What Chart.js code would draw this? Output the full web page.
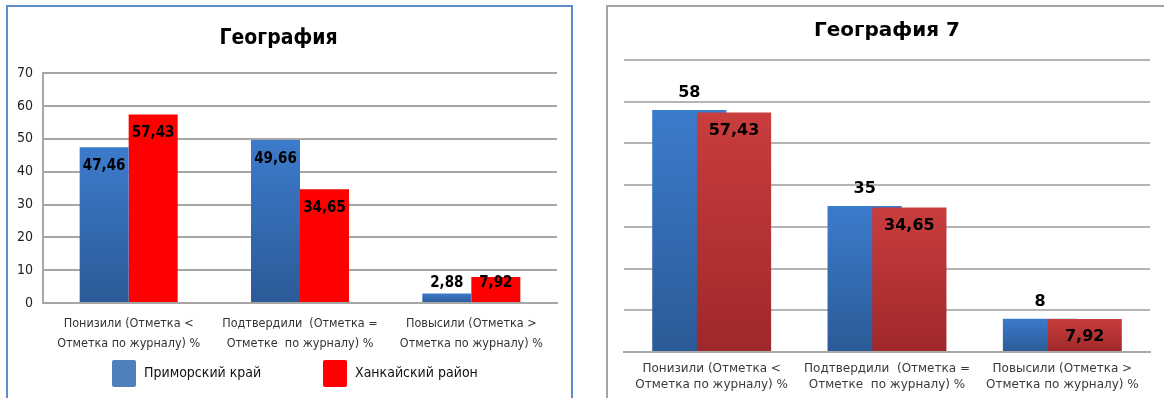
<!DOCTYPE html>
<html>
<head>
<meta charset="utf-8">
<script src="https://cdn.jsdelivr.net/npm/chart.js@4.4.1/dist/chart.umd.min.js"></script>
<style>
  body { margin: 0; background: #fff; width: 1164px; height: 398px; overflow: hidden; position: relative; }
  canvas { position: absolute; top: 0; }
  #leftChart { left: 0; }
  #rightChart { left: 600px; }
  .frame { position: absolute; pointer-events: none; box-sizing: border-box; }
  #leftFrame { left: 6px; top: 5px; width: 567px; height: 400px; border: 2px solid #5b8dcf; }
  #rightFrame { left: 606px; top: 5px; width: 570px; height: 400px; border: 2px solid #a3a3a3; }
</style>
</head>
<body>
<canvas id="leftChart" width="580" height="398"></canvas>
<canvas id="rightChart" width="564" height="398"></canvas>
<div class="frame" id="leftFrame"></div>
<div class="frame" id="rightFrame"></div>
<script>
// categories (same for both charts)
const categories = [
    ['Понизили (Отметка <', 'Отметка по журналу) %'],
    ['Подтвердили  (Отметка =', 'Отметке  по журналу) %'],
    ['Повысили (Отметка >', 'Отметка по журналу) %']
];
const seriesNames = ['Приморский край', 'Ханкайский район'];

// left chart "География"
const leftTitle = 'География';
const leftPrimorsky = [47.46, 49.66, 2.88];
const leftKhanka = [57.43, 34.65, 7.92];

// right chart "География 7"
const rightTitle = 'География 7';
const rightPrimorsky = [58, 35, 8];
const rightKhanka = [57.43, 34.65, 7.92];

const yMin = 0, yMax = 70, yStep = 10;

const FONT_L = "'DejaVu Sans Condensed', 'DejaVu Sans', sans-serif";
const FONT_R = "'DejaVu Sans', Verdana, sans-serif";

const fmt = v => String(v).replace('.', ',');

// vertical gradient per bar, from its top to the zero line
function barGradient(top, bottom) {
    return function (c) {
        const chart = c.chart;
        if (!chart.chartArea || c.raw === undefined) return top;
        const y = chart.scales.y;
        const g = chart.ctx.createLinearGradient(0, y.getPixelForValue(c.raw), 0, y.getPixelForValue(0));
        g.addColorStop(0, top);
        g.addColorStop(1, bottom);
        return g;
    };
}

const leftValueLabels = {
    id: 'leftValueLabels',
    afterDatasetsDraw(chart) {
        const ctx = chart.ctx;
        ctx.save();
        ctx.font = 'bold 15px ' + FONT_L;
        ctx.fillStyle = '#000';
        ctx.textAlign = 'center';
        ctx.textBaseline = 'middle';
        chart.data.datasets.forEach((ds, i) => {
            chart.getDatasetMeta(i).data.forEach((bar, j) => {
                const y = Math.min(bar.y + 19, bar.base - 19);
                ctx.fillText(fmt(ds.data[j]), bar.x, y);
            });
        });
        ctx.restore();
    }
};

const leftLegend = {
    id: 'leftLegend',
    afterDraw(chart) {
        const ctx = chart.ctx;
        const xs = [112, 323];
        ctx.save();
        ctx.font = '14px ' + FONT_L;
        ctx.textBaseline = 'middle';
        ctx.textAlign = 'left';
        chart.data.datasets.forEach((ds, i) => {
            ctx.fillStyle = ds.legendColor;
            ctx.beginPath();
            ctx.roundRect(xs[i], 360, 24, 27, 2);
            ctx.fill();
            ctx.fillStyle = '#111';
            ctx.fillText(ds.label, xs[i] + 32, 373);
        });
        ctx.restore();
    }
};

// draw the left-hand (blue) series first so the red one overlaps it
const rightDrawOrder = {
    id: 'rightDrawOrder',
    beforeDatasetsDraw(chart) {
        chart.getDatasetMeta(0).controller.draw();
        chart.getDatasetMeta(1).controller.draw();
        return false;
    }
};

const rightValueLabels = {
    id: 'rightValueLabels',
    afterDraw(chart) {
        const ctx = chart.ctx;
        ctx.save();
        ctx.font = 'bold 16px ' + FONT_R;
        ctx.fillStyle = '#000';
        ctx.textAlign = 'center';
        ctx.textBaseline = 'middle';
        chart.data.datasets.forEach((ds, i) => {
            chart.getDatasetMeta(i).data.forEach((bar, j) => {
                const y = i === 0 ? bar.y - 17 : bar.y + 18;
                ctx.fillText(fmt(ds.data[j]), bar.x, y);
            });
        });
        ctx.restore();
    }
};

new Chart(document.getElementById('leftChart').getContext('2d'), {
    type: 'bar',
    data: {
        labels: categories,
        datasets: [{
            label: seriesNames[0],
            data: leftPrimorsky,
            backgroundColor: barGradient('#3c7bcb', '#2c5a97'),
            legendColor: '#4f81bd',
            categoryPercentage: 0.572,
            barPercentage: 1
        }, {
            label: seriesNames[1],
            data: leftKhanka,
            backgroundColor: '#ff0000',
            legendColor: '#ff0000',
            categoryPercentage: 0.572,
            barPercentage: 1
        }]
    },
    options: {
        responsive: false,
        animation: false,
        layout: { padding: { left: 0, right: 23, top: 0, bottom: 45 } },
        plugins: {
            legend: { display: false },
            tooltip: { enabled: false },
            title: {
                display: true,
                text: leftTitle,
                color: '#000',
                font: { family: FONT_L, size: 21, weight: 'bold', lineHeight: 1.2 },
                padding: { top: 26, bottom: 22 }
            }
        },
        scales: {
            x: {
                afterFit: s => { s.height = 50; },
                grid: { display: false, drawTicks: false },
                border: { color: '#a6a6a6', width: 2 },
                ticks: {
                    color: '#333',
                    font: { family: FONT_L, size: 12.5, lineHeight: 1.6 },
                    padding: 11,
                    maxRotation: 0,
                    autoSkip: false
                }
            },
            y: {
                min: yMin,
                max: yMax,
                afterFit: s => { s.width = 43; },
                grid: { color: '#a6a6a6', lineWidth: 2, drawTicks: false },
                border: { color: '#a6a6a6', width: 2 },
                ticks: {
                    stepSize: yStep,
                    color: '#222',
                    padding: 10,
                    font: { family: FONT_L, size: 14 }
                }
            }
        }
    },
    plugins: [leftValueLabels, leftLegend]
});

new Chart(document.getElementById('rightChart').getContext('2d'), {
    type: 'bar',
    data: {
        labels: categories,
        datasets: [{
            label: seriesNames[0],
            data: rightPrimorsky,
            backgroundColor: barGradient('#3b7bcc', '#2c5a96'),
            categoryPercentage: 0.51,
            barPercentage: 1.66
        }, {
            label: seriesNames[1],
            data: rightKhanka,
            backgroundColor: barGradient('#c93d3d', '#9f282a'),
            categoryPercentage: 0.51,
            barPercentage: 1.66
        }]
    },
    options: {
        responsive: false,
        animation: false,
        layout: { padding: { left: 24, right: 14, top: 0, bottom: 6 } },
        plugins: {
            legend: { display: false },
            tooltip: { enabled: false },
            title: {
                display: true,
                text: rightTitle,
                color: '#000',
                font: { family: FONT_R, size: 20, weight: 'bold', lineHeight: 1.2 },
                padding: { top: 19, bottom: 17 }
            }
        },
        scales: {
            x: {
                afterFit: s => { s.height = 40; },
                grid: { display: false, drawTicks: false },
                border: { color: '#a9a9a9', width: 2 },
                ticks: {
                    color: '#3a3a3a',
                    font: { family: FONT_R, size: 12, lineHeight: 1.33 },
                    padding: 9,
                    maxRotation: 0,
                    autoSkip: false
                }
            },
            y: {
                min: yMin,
                max: yMax,
                afterFit: s => { s.width = 0; },
                grid: { color: '#b4b4b4', lineWidth: 2, drawTicks: false },
                border: { display: false },
                ticks: { display: false, stepSize: yStep }
            }
        }
    },
    plugins: [rightDrawOrder, rightValueLabels]
});
</script>
</body>
</html>
